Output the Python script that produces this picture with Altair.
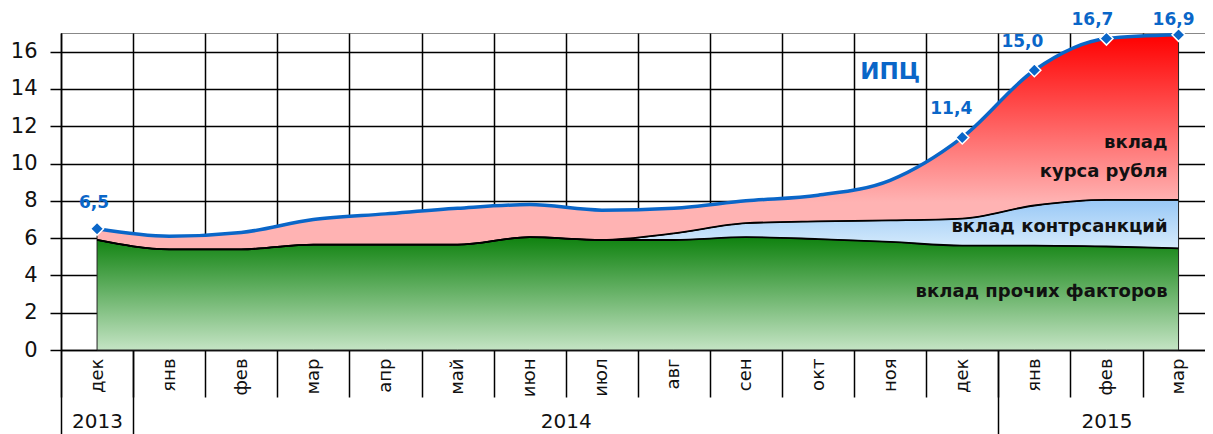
import json
import altair as alt
import pandas as pd

# ---------------- data ----------------
months = ["дек", "янв", "фев", "мар", "апр", "май", "июн", "июл",
          "авг", "сен", "окт", "ноя", "дек", "янв", "фев", "мар"]
month_year = ["2013"] + ["2014"] * 12 + ["2015"] * 3
cpi = [6.5, 6.1, 6.3, 7.0, 7.3, 7.6, 7.8, 7.5, 7.6, 8.0, 8.3, 9.1, 11.4, 15.0, 16.7, 16.9]
other = [5.9, 5.4, 5.4, 5.65, 5.65, 5.65, 6.05, 5.9, 5.9, 6.05, 5.95, 5.8, 5.6, 5.6, 5.55, 5.45]
sanctions = [0, 0, 0, 0, 0, 0, 0, 0, 0.35, 0.75, 0.95, 1.15, 1.45, 2.15, 2.5, 2.6]
cpi_labels = ["6,5", "", "", "", "", "", "", "", "", "", "", "", "11,4", "15,0", "16,7", "16,9"]
years = ["2013", "2014", "2015"]

notes_text = ["вклад", "курса рубля", "вклад контрсанкций", "вклад прочих факторов"]
notes_x = [15, 15, 15, 15]
notes_y = [11.1, 9.55, 6.6, 3.1]
title_text = ["ИПЦ"]
title_x = [11]
title_y = [14.9]

# ---------------- derived tables ----------------
n = len(months)
idx = list(range(n))
s1 = other
s2 = [o + s for o, s in zip(other, sanctions)]
df = pd.DataFrame({"i": idx, "month": months, "s1": s1, "s2": s2, "s3": cpi,
                   "lab": cpi_labels})
lab_df = df[df["lab"] != ""].copy()

PLOT_W = 1144
BAND = 72.1
x_max = -0.5 + PLOT_W / BAND   # last month band is cut by the right edge, as in the original

bounds = [i - 0.5 for i in range(n + 1) if i - 0.5 <= x_max]
year_seps = [-0.5] + [i - 0.5 for i in range(1, n) if month_year[i] != month_year[i - 1]]
year_centers = []
for y in years:
    ii = [i for i in range(n) if month_year[i] == y]
    year_centers.append((min(ii) + max(ii)) / 2)

notes_df = pd.DataFrame({"t": notes_text, "x": notes_x, "y": notes_y})
title_df = pd.DataFrame({"t": title_text, "x": title_x, "y": title_y})

FONT = "DejaVu Sans"
BLUE = "#0a66c8"

xscale = alt.Scale(domain=[-0.5, x_max], nice=False, zero=False)
yscale = alt.Scale(domain=[0, 17], nice=False, zero=True)

yaxis = alt.Axis(values=list(range(0, 17, 2)), grid=True, gridColor="black", gridWidth=1.5,
                 tickSize=11, tickColor="black", tickWidth=1.5, labelFontSize=21,
                 labelFont=FONT, labelColor="#111", labelPadding=13, domainColor="black",
                 domainWidth=1.5, title=None)

month_expr = json.dumps(months, ensure_ascii=False) + "[datum.value]"
year_expr = " : ".join(
    f"datum.value == {c} ? '{y}'" for c, y in zip(year_centers[:-1], years[:-1])
) + f" : '{years[-1]}'"

ax_grid = alt.Axis(values=bounds, grid=True, gridColor="black", gridWidth=1.5, ticks=True,
                   tickSize=47, tickColor="black", tickWidth=1.5, labels=False,
                   domain=False, title=None, orient="bottom")
ax_month = alt.Axis(values=idx, labelExpr=month_expr, labelAngle=270, labelPadding=8,
                    ticks=False, tickSize=0, grid=False, domain=True, domainColor="black",
                    domainWidth=1.5, labelFontSize=18, labelFont=FONT, labelColor="#111",
                    labelFlush=False, labelOverlap=False, labelBound=False, title=None,
                    orient="bottom")
ax_sep = alt.Axis(values=year_seps, grid=False, ticks=True, tickSize=84, tickColor="black",
                  tickWidth=1.5, labels=False, domain=False, title=None, orient="bottom")
ax_year = alt.Axis(values=year_centers, labelExpr=year_expr, labelAngle=0, labelPadding=61,
                   ticks=False, tickSize=0, grid=False, domain=False, labelFontSize=20,
                   labelFont=FONT, labelColor="#111", labelFlush=False, labelOverlap=False,
                   labelBound=False, title=None, orient="bottom")


def X(axis, field="i"):
    return alt.X(f"{field}:Q", scale=xscale, axis=axis)


def Y(field):
    return alt.Y(f"{field}:Q", scale=yscale, axis=yaxis)


def grad(stops):
    return alt.Gradient(gradient="linear", x1=0, x2=0, y1=0, y2=1,
                        stops=[alt.GradientStop(color=c, offset=o) for o, c in stops])


base = alt.Chart(df)

green = base.mark_area(
    interpolate="monotone", stroke="#222", strokeWidth=1,
    color=grad([(0, "#0f820f"), (1, "#c4e4c4")]),
).encode(x=X(ax_month), y=Y("s1"), y2=alt.datum(0))

blue = base.mark_area(
    interpolate="monotone", stroke="#222", strokeWidth=1,
    color=grad([(0, "#98c8f6"), (1, "#d8ecfc")]),
).encode(x=X(ax_grid), y=Y("s2"), y2="s1")

red = base.mark_area(
    interpolate="monotone", stroke="#222", strokeWidth=1,
    color=grad([(0, "#ff0000"), (0.78, "#ffb3b3"), (1, "#ffb3b3")]),
).encode(x=X(ax_sep), y=Y("s3"), y2="s2")

line_s1 = base.mark_line(interpolate="monotone", color="black", strokeWidth=1.8).encode(
    x=X(ax_year), y=Y("s1"))
line_s2 = base.mark_line(interpolate="monotone", color="black", strokeWidth=1.8).encode(
    x=X(None), y=Y("s2"))
line_cpi = base.mark_line(interpolate="monotone", color=BLUE, strokeWidth=3.5).encode(
    x=X(None), y=Y("s3"))

pts = alt.Chart(lab_df).mark_point(
    shape="diamond", filled=True, size=170, color=BLUE, stroke="white", strokeWidth=1.5,
    opacity=1,
).encode(x=X(None), y=Y("s3"))

label_layers = []
offsets = {"6,5": (-3, -26), "11,4": (-11, -28), "15,0": (-12, -28),
           "16,7": (-14, -19), "16,9": (-5, -15)}
for lab in lab_df["lab"]:
    dx, dy = offsets.get(lab, (-8, -24))
    label_layers.append(
        alt.Chart(lab_df[lab_df["lab"] == lab]).mark_text(
            font=FONT, fontSize=17, fontWeight="bold", color=BLUE, dx=dx, dy=dy,
        ).encode(x=X(None), y=Y("s3"), text="lab:N")
    )

notes = alt.Chart(notes_df).mark_text(
    font=FONT, fontSize=18, fontWeight="bold", color="#111", align="right", dx=-11,
).encode(x=X(None, "x"), y=Y("y"), text="t:N")

title = alt.Chart(title_df).mark_text(
    font=FONT, fontSize=23, fontWeight="bold", color=BLUE,
).encode(x=X(None, "x"), y=Y("y"), text="t:N")

chart = alt.layer(
    green, blue, red, line_s1, line_s2, line_cpi, pts, *label_layers, notes, title
).resolve_axis(x="independent").properties(
    width=PLOT_W, height=317,
    autosize=alt.AutoSizeParams(type="none"),
    padding={"left": 53, "top": 25, "right": 0, "bottom": 84},
).configure_view(stroke="#888", strokeWidth=1)

chart.save("out.html", embed_options={"renderer": "svg", "actions": False})
